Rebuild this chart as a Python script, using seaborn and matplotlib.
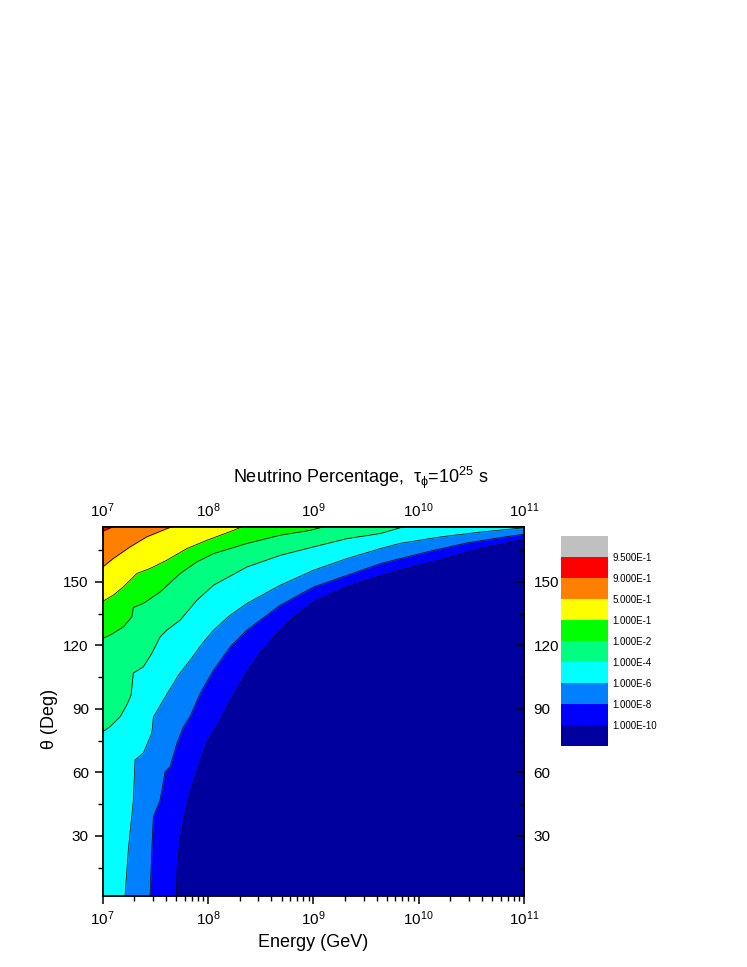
import matplotlib
matplotlib.use("Agg")
import matplotlib.pyplot as plt
import seaborn as sns
import numpy as np
from matplotlib.ticker import LogLocator, MultipleLocator, NullFormatter

# contour levels, legend labels and band colours (lowest band first)
levels = [1e-10, 1e-8, 1e-6, 1e-4, 1e-2, 1e-1, 0.5, 0.9, 0.95]
level_labels = ["1.000E-10", "1.000E-8", "1.000E-6", "1.000E-4", "1.000E-2",
                "1.000E-1", "5.000E-1", "9.000E-1", "9.500E-1"]
band_colors = ["#00009E", "#0000FF", "#0080FF", "#00FFFF", "#00FF80",
               "#00FF00", "#FFFF00", "#FF8000", "#FF0000", "#C0C0C0"]

# contour lines: theta (deg) vs log10(energy / GeV)
theta_1e10 = [1.8, 15.4, 28.1, 40.8, 53.1, 62.5, 73.9, 84.7, 95.0, 108.3, 117.9, 127.2,
              134.0, 140.5, 147.6, 152.3, 155.5, 160.2, 165.7, 170.0, 176.0]
loge_1e10 = [7.70, 7.707, 7.735, 7.783, 7.846, 7.909, 7.989, 8.116, 8.225, 8.38, 8.52, 8.686,
             8.83, 9.003, 9.320, 9.610, 9.827, 10.200, 10.588, 11.0, 11.0]

theta_1e8 = [1.8, 23.4, 39.1, 47.0, 60.3, 62.7, 73.7, 81.6, 86.5, 97.3, 108.3, 119.3, 127.2,
             139.0, 147.6, 153.1, 158.6, 161.0, 164.9, 168.4, 170.9, 172.5, 176.0]
loge_1e8 = [7.450, 7.466, 7.481, 7.545, 7.592, 7.640, 7.704, 7.767, 7.830, 7.925, 8.052, 8.211, 8.369,
            8.686, 9.003, 9.320, 9.637, 9.827, 10.144, 10.462, 10.779, 11.0, 11.0]

theta_1e6 = [1.8, 23.4, 47.0, 65.9, 69.2, 78.6, 86.1, 94.2, 106.0, 113.0, 120.5, 127.2, 133.8,
             139.8, 148.4, 155.5, 161.0, 165.7, 168.2, 171.2, 173.5, 175.5, 176.0]
loge_1e6 = [7.212, 7.243, 7.291, 7.307, 7.386, 7.466, 7.481, 7.576, 7.72, 7.830, 7.94, 8.052, 8.20,
            8.369, 8.686, 9.003, 9.320, 9.637, 9.827, 10.208, 10.588, 11.0, 11.0]

theta_1e4 = [79.2, 81.6, 86.3, 91.8, 96.5, 106.9, 109.9, 116.2, 124.0, 127.2, 131.9, 141.3,
             148.4, 157.0, 162.5, 166.5, 170.4, 172.8, 175.6, 176.0]
loge_1e4 = [7.0, 7.069, 7.165, 7.228, 7.269, 7.291, 7.386, 7.466, 7.545, 7.609, 7.735, 7.894,
            8.052, 8.369, 8.686, 9.003, 9.320, 9.637, 9.83, 9.90]

theta_1e2 = [123.3, 124.8, 128.7, 133.4, 137.9, 139.8, 145.2, 153.9, 159.4, 163.3, 168.1, 172.0, 174.3, 176.0]
loge_1e2 = [7.0, 7.069, 7.196, 7.276, 7.291, 7.386, 7.545, 7.735, 7.894, 8.052, 8.369, 8.686, 8.971, 9.10]

theta_1e1 = [140.8, 143.7, 147.6, 152.3, 153.9, 156.3, 160.2, 165.7, 169.6, 174.3, 176.0]
loge_1e1 = [7.0, 7.101, 7.196, 7.291, 7.323, 7.450, 7.609, 7.799, 7.989, 8.242, 8.325]

theta_05 = [157.0, 161.0, 166.5, 171.2, 175.1, 176.0]
loge_05 = [7.0, 7.101, 7.260, 7.418, 7.609, 7.659]

theta_09 = [173.9, 176.0]
loge_09 = [7.0, 7.098]

x_ticks = [1e7, 1e8, 1e9, 1e10, 1e11]
y_ticks = [30, 60, 90, 120, 150]

curves = [(theta_1e10, loge_1e10), (theta_1e8, loge_1e8), (theta_1e6, loge_1e6),
          (theta_1e4, loge_1e4), (theta_1e2, loge_1e2), (theta_1e1, loge_1e1),
          (theta_05, loge_05), (theta_09, loge_09)]

sns.set_style("ticks")
plt.rcParams["font.family"] = ["Liberation Sans", "DejaVu Sans"]
plt.rcParams["mathtext.fontset"] = "custom"
plt.rcParams["mathtext.rm"] = "Liberation Sans"
plt.rcParams["mathtext.it"] = "Liberation Sans:italic"
for key in ["text.color", "axes.labelcolor", "xtick.color", "ytick.color", "axes.edgecolor"]:
    plt.rcParams[key] = "black"

fig = plt.figure(figsize=(7.47, 9.67), dpi=100)
ax = fig.add_axes([0.1375, 0.0737, 0.564, 0.3816])
ax.set_xscale("log")
ax.set_facecolor(band_colors[0])

# paint each band left of its contour, lowest level first
for i, (th, le) in enumerate(curves):
    e = 10 ** np.array(le)
    ax.fill_betweenx(th, 1e6, e, color=band_colors[i + 1], lw=0)

for th, le in curves:
    sns.lineplot(x=10 ** np.array(le), y=th, sort=False, estimator=None,
                 color="black", lw=0.55, ax=ax)

ax.set_xlim(1e7, 1e11)
ax.set_ylim(1.8, 176)

# bottom / left: outward ticks
ax.set_xticks(x_ticks)
ax.xaxis.set_minor_locator(LogLocator(base=10, subs=np.arange(2, 10)))
ax.xaxis.set_minor_formatter(NullFormatter())
ax.set_yticks(y_ticks)
ax.yaxis.set_minor_locator(MultipleLocator(15))
ax.tick_params(which="major", direction="out", length=6, width=1.1, labelsize=11, pad=4)
ax.tick_params(which="minor", direction="out", length=3.5, width=1.0)
for s in ax.spines.values():
    s.set_linewidth(1.3)

# top / right: inward ticks with labels
top = ax.secondary_xaxis("top")
top.set_xticks(x_ticks)
top.xaxis.set_minor_locator(LogLocator(base=10, subs=np.arange(2, 10)))
top.xaxis.set_minor_formatter(NullFormatter())
top.tick_params(which="major", direction="in", length=7, width=1.1, labelsize=11, pad=5)
top.tick_params(which="minor", direction="in", length=4, width=1.0)
top.spines["top"].set_linewidth(1.3)

right = ax.secondary_yaxis("right")
right.set_yticks(y_ticks)
right.yaxis.set_minor_locator(MultipleLocator(15))
right.tick_params(which="major", direction="in", length=6, width=1.1, labelsize=11, pad=7)
right.tick_params(which="minor", direction="in", length=3.5, width=1.0)
right.spines["right"].set_linewidth(1.3)

ax.set_xlabel("Energy (GeV)", fontsize=13)
ax.xaxis.set_label_coords(0.5, -0.105)
ax.set_ylabel("θ (Deg)", fontsize=13)
ax.yaxis.set_label_coords(-0.105, 0.48)

fig.text(0.312, 0.5057, r"Neutrino Percentage,  $\mathregular{\tau_{\phi}}$=10$^{25}$ s",
         fontsize=13, ha="left", va="center")

# colour scale box
cax = fig.add_axes([0.751, 0.2288, 0.0629, 0.2169])
for i, c in enumerate(band_colors):
    cax.bar(0, 1, bottom=i, width=1, color=c, lw=0)
cax.set_xlim(-0.5, 0.5)
cax.set_ylim(0, len(band_colors))
cax.set_xticks([])
cax.yaxis.tick_right()
cax.set_yticks(range(1, len(band_colors)))
cax.set_yticklabels(level_labels)
cax.tick_params(axis="y", length=0, labelsize=7, pad=3)
for s in cax.spines.values():
    s.set_visible(False)

fig.savefig("out.png", dpi=100)
